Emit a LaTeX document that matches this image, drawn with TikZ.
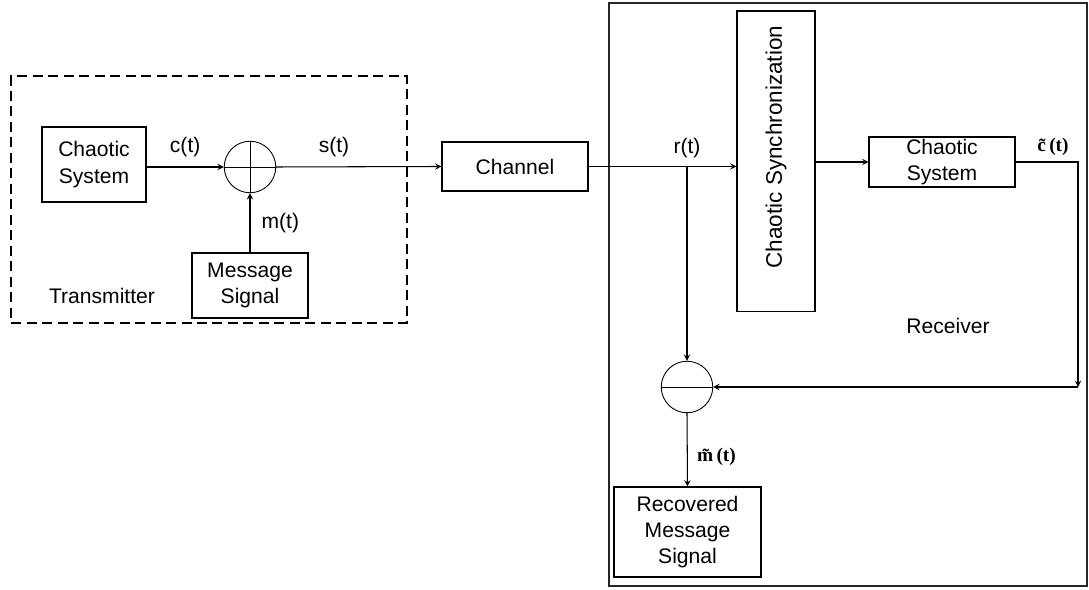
\documentclass[tikz,border=0pt]{standalone}
\usepackage{fontspec}
\setmainfont{Liberation Sans}
\newfontfamily\tildefont{Liberation Serif}
\usepackage{tikz}
\usetikzlibrary{arrows, positioning}
\tikzset{
    block/.style={rectangle, draw=black, line width=0.6pt, align=center, inner sep=1pt, font=\fontsize{12}{15}\selectfont},
    junction/.style={circle, draw=black, line width=0.5pt, minimum size=1.03cm, inner sep=0pt},
    arrow/.style={line width=0.6pt,->,>=stealth}
}

\begin{document}
\begin{tikzpicture}[x=0.02cm, y=-0.02cm,
        frame/.style={rectangle, draw=black, line width=1.6pt, dash pattern=on 0.2cm off 0.11cm},
        panel/.style={rectangle, draw=black!85, line width=0.8pt},
        plus/.style={junction, path picture={\draw[line width=0.5pt] (path picture bounding box.north) -- (path picture bounding box.south) (path picture bounding box.west) -- (path picture bounding box.east);}},
        minus/.style={junction, path picture={\draw[line width=0.5pt] (path picture bounding box.west) -- (path picture bounding box.east);}},
        sig/.style={font=\fontsize{12}{14}\selectfont},
        est/.style={font=\tildefont\bfseries\fontsize{11}{13}\selectfont}
    ]
    \useasboundingbox (0,0) rectangle (1089,590);

        % Transmitter
        \node[frame, minimum width=7.92cm, minimum height=4.94cm] (tx) at (209,199.5) {};
        \node[block, minimum width=2.08cm, minimum height=1.5cm] (chaos1) at (94,164.5) {Chaotic\\System};
        \node[plus] (sum) at (250,167) {};
        \node[block, minimum width=2.32cm, minimum height=1.3cm] (msg) at (250,285.5) {Message\\Signal};
        \node[sig] (txlabel) at (102,296) {Transmitter};

        % Channel
        \node[block, minimum width=2.92cm, minimum height=0.98cm] (chan) at (515,166.5) {Channel};

        % Receiver
        \node[panel, minimum width=9.56cm, minimum height=11.66cm] (rx) at (848,294.5) {};
        \node[block, minimum width=1.56cm, minimum height=6.02cm] (sync) at (776,161.5) {};
        \node[sig, rotate=90, font=\fontsize{12.8}{14}\selectfont] (synclabel) at (776,147) {Chaotic Synchronization};
        \node[block, minimum width=2.92cm, minimum height=1.0cm] (chaos2) at (942,162) {Chaotic\\System};
        \node[minus] (sub) at (687,387) {};
        \node[block, minimum width=2.94cm, minimum height=1.8cm] (rec) at (687.5,532) {Recovered\\Message\\Signal};
        \node[sig] (rxlabel) at (948,326) {Receiver};
        \coordinate (fb) at (1078,387);

        % Connections
        \draw[arrow] (chaos1.east |- sum.west) -- (sum.west) node[sig, midway, above=2pt] {c(t)};
        \draw[arrow] (msg.north) -- (sum.south) node[sig, midway, right=3pt] {m(t)};
        \draw[arrow] (sum.east) -- (chan.west) node[sig, pos=0.35, above=2pt] {s(t)};
        \draw[arrow] (chan.east) -- (chan.east -| sync.west);
        \draw[arrow] (sub |- chan.east) -- (sub.north) node[sig, at start, above=1pt] {r(t)};
        \draw[arrow] (chaos2.west -| sync.east) -- (chaos2.west);
        \draw[arrow] (chaos2.east) -| (fb) node[est, pos=0.5, xshift=-0.5cm, yshift=0.3cm] {\~c\,(t)};
        \draw[arrow] (fb) -- (sub.east);
        \draw[arrow] (sub.south) -- (rec.north) node[est, pos=0.6, right=2pt] {\~m\,(t)};

    \end{tikzpicture}
\end{document}
